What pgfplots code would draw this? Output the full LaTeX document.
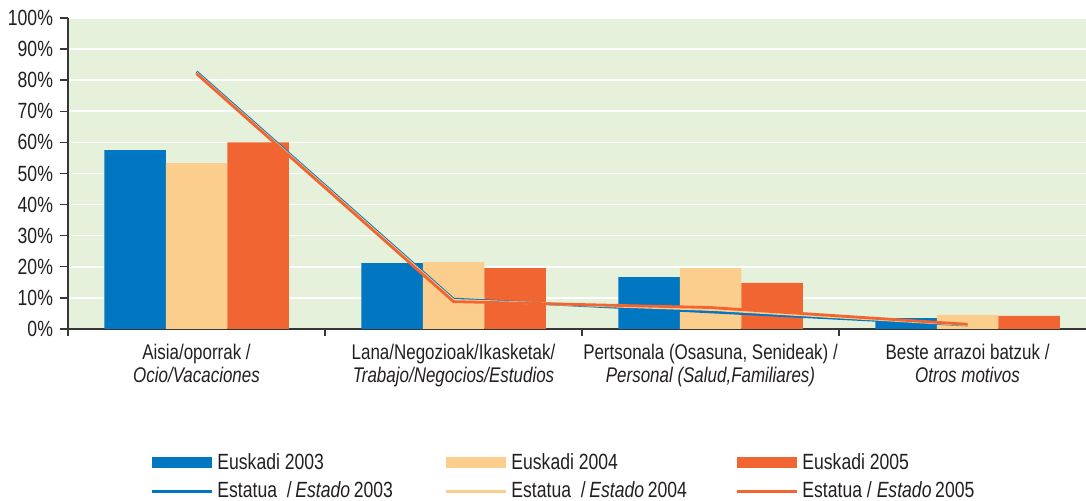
\documentclass[border=0pt]{standalone}
\usepackage{fontspec}
\setmainfont{Liberation Sans}[FakeStretch=0.8]
\usepackage{pgfplots}
\pgfplotsset{compat=1.18}
\definecolor{cBlue}{RGB}{0,119,192}
\definecolor{cLight}{RGB}{251,206,142}
\definecolor{cRed}{RGB}{241,101,50}
\definecolor{bgGreen}{RGB}{230,241,220}
\definecolor{txt}{RGB}{35,31,32}
\definecolor{axisc}{RGB}{55,55,55}
\begin{document}
\begin{tikzpicture}
\useasboundingbox (-34pt,-86pt) rectangle (509pt,164.5pt);
\begin{axis}[
  at={(0pt,0pt)}, anchor=south west,
  scale only axis, width=509pt, height=155.5pt,
  xmin=-0.5, xmax=3.461, ymin=0, ymax=100,
  axis x line*=bottom, axis y line*=left,
  axis line style={axisc, line width=0.7pt, -},
  axis background/.style={fill=bgGreen},
  ymajorgrids, y grid style={white, line width=0.8pt},
  tick align=outside,
  major tick length=4pt, minor tick length=3.5pt,
  tick style={axisc, line width=0.7pt},
  xtick={0,1,2,3},
  minor xtick={-0.5,0.5,1.5,2.5},
  major x tick style={draw=none},
  xticklabels={
    {Aisia/oporrak /\\\textit{Ocio/Vacaciones}},
    {Lana/Negozioak/Ikasketak/\\\textit{Trabajo/Negocios/Estudios}},
    {Pertsonala (Osasuna, Senideak) /\\\textit{Personal (Salud,Familiares)}},
    {Beste arrazoi batzuk /\\\textit{Otros motivos}}},
  xticklabel style={align=center, font=\fontsize{10.6}{11.4}\selectfont, text=txt},
  ytick={0,10,...,100},
  yticklabel={\pgfmathprintnumber{\tick}\%},
  yticklabel style={font=\fontsize{11}{12}\selectfont, text=txt},
  /pgf/number format/assume math mode=true,
  legend columns=3,
  legend style={draw=none, fill=none, at={(0,0)}, anchor=north west,
    xshift=38pt, yshift=-58pt, font=\fontsize{11}{13}\selectfont, text=txt,
    row sep=0.8pt},
]
\addplot[ybar, bar width=30.75pt, bar shift=-30.75pt, fill=cBlue, draw=none,
  legend image code/.code={\fill[cBlue] (0pt,-2.75pt) rectangle (30pt,2.75pt);}]
  coordinates {(0,57.5) (1,21.2) (2,16.7) (3,3.5)};
\addlegendentry{\makebox[111.5pt][l]{Euskadi 2003}}
\addplot[ybar, bar width=30.75pt, bar shift=0pt, fill=cLight, draw=none,
  legend image code/.code={\fill[cLight] (0pt,-2.75pt) rectangle (30pt,2.75pt);}]
  coordinates {(0,53.3) (1,21.5) (2,19.6) (3,4.5)};
\addlegendentry{\makebox[110pt][l]{Euskadi 2004}}
\addplot[ybar, bar width=30.75pt, bar shift=30.75pt, fill=cRed, draw=none,
  legend image code/.code={\fill[cRed] (0pt,-2.75pt) rectangle (30pt,2.75pt);}]
  coordinates {(0,60.0) (1,19.6) (2,14.8) (3,4.2)};
\addlegendentry{\makebox[100pt][l]{Euskadi 2005}}
\addplot[sharp plot, no markers, cBlue, line width=1.4pt,
  legend image code/.code={\draw[cBlue, line width=1.5pt] (0pt,0pt) -- (30pt,0pt);}]
  coordinates {(0,82.7) (1,9.6) (2,5.5) (3,1.3)};
\addlegendentry{\makebox[111.5pt][l]{Estatua \ /\,\textit{Estado}\,2003}}
\addplot[sharp plot, no markers, cLight, line width=1.4pt,
  legend image code/.code={\draw[cLight, line width=1.5pt] (0pt,0pt) -- (30pt,0pt);}]
  coordinates {(0,82.3) (1,9.2) (2,6.3) (3,1.4)};
\addlegendentry{\makebox[110pt][l]{Estatua \ /\,\textit{Estado}\,2004}}
\addplot[sharp plot, no markers, cRed, line width=1.4pt,
  legend image code/.code={\draw[cRed, line width=1.5pt] (0pt,0pt) -- (30pt,0pt);}]
  coordinates {(0,82.1) (1,8.8) (2,6.9) (3,1.5)};
\addlegendentry{\makebox[100pt][l]{Estatua / \textit{Estado}\,2005}}
\end{axis}
\end{tikzpicture}
\end{document}
